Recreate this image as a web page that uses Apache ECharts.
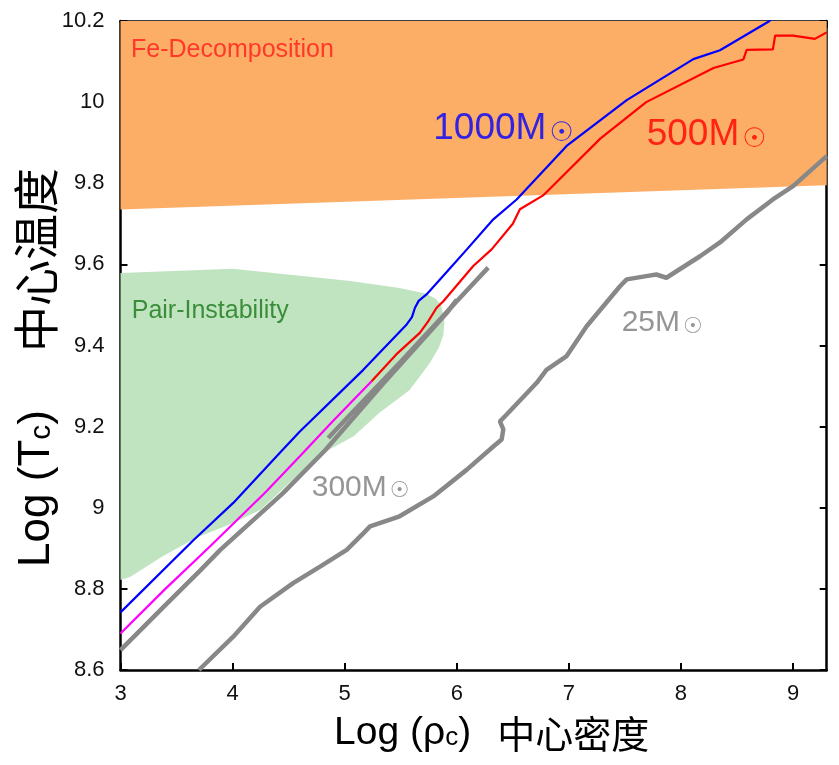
<!DOCTYPE html>
<html lang="zh">
<head>
    <meta charset="UTF-8">
    <title>中心温度 - 中心密度</title>
    <script src="https://cdn.jsdelivr.net/npm/echarts@6/dist/echarts.min.js"></script>
    <style>
        html, body { margin: 0; padding: 0; background: #fff; }
        #container { width: 839px; height: 765px; }
    </style>
</head>
<body>
<div id="container"></div>
<script type="text/javascript">
    // 轴范围
    var xMin = 3, xMax = 9.3, yMin = 8.6, yMax = 10.2;

    // Fe-Decomposition 区域下边界
    var feX = [3, 9.3];
    var feY = [9.735, 9.795];

    // Pair-Instability 区域轮廓
    var pairX = [3.0, 4.0, 4.6, 5.05, 5.49, 5.72, 5.81, 5.86, 5.89, 5.88, 5.84, 5.76, 5.58, 5.31, 5.08, 4.84, 4.5, 4.25, 4.0, 3.71, 3.59, 3.35, 3.09, 3.0];
    var pairY = [9.579, 9.589, 9.572, 9.559, 9.542, 9.528, 9.516, 9.5, 9.46, 9.425, 9.395, 9.357, 9.29, 9.234, 9.176, 9.14, 9.06, 8.995, 8.962, 8.93, 8.913, 8.876, 8.83, 8.822];

    // 1000M
    var m1000X = [3.0, 3.65, 4.006, 4.42, 4.6, 5.166, 5.553, 5.6, 5.627, 5.66, 5.73, 5.91, 6.09, 6.326, 6.534, 6.98, 7.516, 8.11, 8.348, 8.779, 8.85];
    var m1000Y = [8.742, 8.92, 9.012, 9.135, 9.188, 9.34, 9.452, 9.47, 9.493, 9.51, 9.526, 9.581, 9.637, 9.711, 9.76, 9.892, 10.005, 10.106, 10.128, 10.198, 10.215];

    // 500M (前段 magenta, 后段 red)
    var m500aX = [3.0, 3.4, 3.8, 4.3, 4.6, 4.9, 5.24];
    var m500aY = [8.69, 8.80, 8.905, 9.04, 9.127, 9.215, 9.312];
    var m500bX = [5.24, 5.46, 5.67, 5.746, 5.82, 5.88, 6.147, 6.311, 6.50, 6.563, 6.77, 7.28, 7.69, 8.29, 8.556, 8.586, 8.82, 8.84, 9.0, 9.195, 9.3];
    var m500bY = [9.312, 9.378, 9.431, 9.46, 9.493, 9.509, 9.596, 9.637, 9.70, 9.736, 9.77, 9.91, 10.0, 10.084, 10.105, 10.129, 10.13, 10.164, 10.164, 10.156, 10.172];

    // 300M (两段)
    var m300aX = [3.0, 3.4, 3.71, 3.89, 4.45, 4.83, 5.34, 5.91, 6.0];
    var m300aY = [8.649, 8.76, 8.845, 8.896, 9.036, 9.143, 9.305, 9.48, 9.513];
    var m300bX = [4.853, 5.0, 5.5, 6.0, 6.28];
    var m300bY = [9.172, 9.215, 9.36, 9.509, 9.592];

    // 25M
    var m25X = [3.70, 4.006, 4.245, 4.54, 4.78, 5.018, 5.166, 5.226, 5.49, 5.79, 6.09, 6.326, 6.40, 6.415, 6.385, 6.445, 6.713, 6.80, 6.98, 7.16, 7.456, 7.516, 7.69, 7.78, 7.87, 8.17, 8.348, 8.586, 8.82, 9.0, 9.3];
    var m25Y = [8.6, 8.682, 8.756, 8.814, 8.855, 8.896, 8.937, 8.954, 8.979, 9.028, 9.094, 9.151, 9.168, 9.193, 9.213, 9.23, 9.308, 9.34, 9.374, 9.448, 9.546, 9.563, 9.571, 9.575, 9.567, 9.62, 9.654, 9.711, 9.76, 9.793, 9.867];

    var sans = "'Liberation Sans', sans-serif";
    var sun = "'DejaVu Sans', sans-serif";
    var cjk = "'Noto Sans CJK SC', sans-serif";

    function pairs(xs, ys) {
        var out = [];
        for (var i = 0; i < xs.length; i++) out.push([xs[i], ys[i]]);
        return out;
    }

    function track(xs, ys, color, width, z) {
        return {
            type: 'line', data: pairs(xs, ys), symbol: 'none', silent: true, z: z,
            lineStyle: { color: color, width: width }
        };
    }

    // 图中文字标注 (数据坐标)
    function note(x, y, text, color, size, sunSize) {
        return {
            value: [x, y],
            label: {
                show: true, position: [0, 0], align: 'left', verticalAlign: 'middle',
                formatter: text,
                rich: {
                    t: { fontFamily: sans, fontSize: size, color: color, verticalAlign: 'bottom' },
                    s: { fontFamily: sun, fontSize: sunSize, color: color, verticalAlign: 'bottom', padding: [0, 0, 0, 3] }
                }
            }
        };
    }

    var notes = [
        note(3.094, 10.128, '{t|Fe-Decomposition}', '#ff1a1a', 25, 20),
        note(3.10, 9.486, '{t|Pair-Instability}', '#187818', 25, 20),
        note(5.79, 9.935, '{t|1000M}{s|☉}', '#0000ff', 37, 27),
        note(7.694, 9.92, '{t|500M}{s|☉}', '#ff0000', 37, 27),
        note(4.706, 9.05, '{t|300M}{s|☉}', '#7a7a7a', 30, 22),
        note(7.471, 9.455, '{t|25M}{s|☉}', '#7a7a7a', 30, 22)
    ];

    var axisCommon = {
        axisLine: { lineStyle: { color: '#000', width: 2.5 } },
        axisTick: { inside: true, length: 7, lineStyle: { color: '#000', width: 2 } },
        splitLine: { show: false }
    };

    var myChart = echarts.init(document.getElementById('container'));
    var option = {
        animation: false,
        grid: { left: 120.5, right: 12.3, top: 21, bottom: 95, containLabel: false, outerBoundsMode: 'none' },
        xAxis: [
            Object.assign({
                type: 'value', min: xMin, max: xMax, interval: 1, position: 'bottom',
                axisLabel: { fontFamily: sans, fontSize: 22, color: '#111', margin: 13, showMaxLabel: false },
                name: '{a|Log (ρ}{b|c}{a|)}{g| }{z|中心密度}',
                nameLocation: 'middle', nameGap: 44, nameMoveOverlap: false,
                nameTextStyle: {
                    padding: [0, 0, 0, 36],
                    rich: {
                        a: { fontFamily: sans, fontSize: 39, color: '#000', verticalAlign: 'bottom' },
                        b: { fontFamily: sans, fontSize: 26, color: '#000', verticalAlign: 'bottom', padding: [0, 0, 2, 0] },
                        g: { width: 26 },
                        z: { fontFamily: cjk, fontSize: 38, color: '#000', verticalAlign: 'bottom' }
                    }
                }
            }, axisCommon),
            Object.assign({
                type: 'value', min: xMin, max: xMax, interval: 1, position: 'top',
                axisLabel: { show: false }
            }, axisCommon)
        ],
        yAxis: [
            Object.assign({
                type: 'value', min: yMin, max: yMax, interval: 0.2, position: 'left',
                axisLabel: { fontFamily: sans, fontSize: 22, color: '#111', margin: 16 },
                name: '{a|Log (T}{b|c}{a|)}{g| }{z|中心温度}',
                nameLocation: 'middle', nameRotate: 90, nameGap: 62, nameMoveOverlap: false,
                nameTextStyle: {
                    padding: [0, 44, 0, 0],
                    rich: {
                        a: { fontFamily: sans, fontSize: 44, color: '#000', verticalAlign: 'bottom' },
                        b: { fontFamily: sans, fontSize: 30, color: '#000', verticalAlign: 'bottom', padding: [0, 0, 2, 0] },
                        g: { width: 58 },
                        z: { fontFamily: cjk, fontSize: 46, color: '#000', verticalAlign: 'bottom' }
                    }
                }
            }, axisCommon),
            Object.assign({
                type: 'value', min: yMin, max: yMax, interval: 0.2, position: 'right',
                axisLabel: { show: false }
            }, axisCommon)
        ],
        series: [
            {
                // Fe-Decomposition 区域
                type: 'line', data: pairs(feX, feY), symbol: 'none', silent: true, z: 1,
                lineStyle: { width: 0 },
                areaStyle: { color: '#fdae66', opacity: 1, origin: 'end' }
            },
            {
                // Pair-Instability 区域
                type: 'custom', silent: true, z: 2, clip: true,
                data: [[pairX[0], pairY[0]]],
                renderItem: function (params, api) {
                    var pts = [];
                    for (var i = 0; i < pairX.length; i++) pts.push(api.coord([pairX[i], pairY[i]]));
                    return { type: 'polygon', shape: { points: pts }, style: { fill: '#c0e4c0' } };
                }
            },
            track(m25X, m25Y, '#888', 4.5, 3),
            track(m300aX, m300aY, '#888', 4.5, 3),
            track(m300bX, m300bY, '#888', 4.5, 3),
            track(m500aX, m500aY, '#ff00ff', 2.2, 4),
            track(m500bX, m500bY, '#ff0000', 2.2, 4),
            track(m1000X, m1000Y, '#0000ff', 2.2, 4),
            {
                type: 'scatter', symbolSize: 0, silent: true, z: 6,
                data: notes
            }
        ]
    };
    myChart.setOption(option);
</script>
</body>
</html>
